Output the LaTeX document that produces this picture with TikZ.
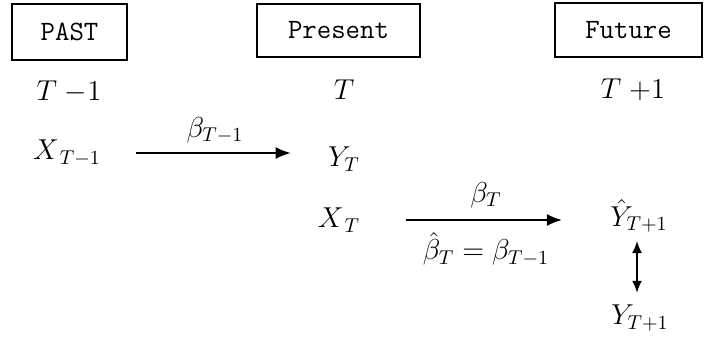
\documentclass[tikz,border=0pt]{standalone}
\usepackage{fontspec}
\usetikzlibrary{arrows.meta}
\begin{document}
\begin{tikzpicture}[x=0.5pt,y=-0.5pt,
  tbox/.style={draw,line width=0.7pt,inner sep=0pt,font=\ttfamily\fontsize{14}{16}\selectfont\addfontfeature{LetterSpace=12}},
  mth/.style={inner sep=0pt,font=\fontsize{14.5}{17}\selectfont},
  arr/.style={line width=0.8pt,-{Latex[length=7.5pt,width=6pt]}},
  darr/.style={line width=0.8pt,{Latex[length=6pt,width=5pt]}-{Latex[length=6pt,width=5pt]}}]
\useasboundingbox (0,0) rectangle (704,339);
% boxes
\node[tbox,minimum width=57.5pt,minimum height=28pt] (past) at (69.5,32) {PAST};
\node[tbox,minimum width=81.5pt,minimum height=26.5pt] (present) at (338.5,30.5) {Present};
\node[tbox,minimum width=73.5pt,minimum height=27pt] (future) at (628.5,30) {Future};
% time labels
\node[mth] (tm1) at (69,92) {$T\;{-}1$};
\node[mth] (t) at (344,90) {$T$};
\node[mth] (tp1) at (633,90) {$T\;{+}1$};
% variables
\node[mth] (xtm1) at (67,153) {$X_{\,T-1}$};
\node[mth] (yt) at (344,159) {$Y_{T}$};
\node[mth] (xt) at (339,220) {$X_{\,T}$};
\node[mth] (yhat) at (639,216) {$\hat{Y}_{T+1}$};
\node[mth] (ytp1) at (640,318) {$Y_{T+1}$};
% arrow labels
\node[mth] (b1) at (215,130) {$\beta_{T-1}$};
\node[mth] (b2) at (486,195) {$\beta_{T}$};
\node[mth] (b3) at (486,249) {$\hat{\beta}_{T} = \beta_{T-1}$};
% arrows
\draw[arr] ([xshift=17.5pt]xtm1.east) -- ([xshift=-18.5pt]yt.west |- xtm1.east);
\draw[arr] ([xshift=22.5pt]xt.east) -- ([xshift=-24pt]yhat.west |- xt.east);
\draw[darr,shorten <=4pt,shorten >=6pt] ([xshift=-1pt]yhat.south) -- ([xshift=-1.5pt]ytp1.north);
\end{tikzpicture}
\end{document}
